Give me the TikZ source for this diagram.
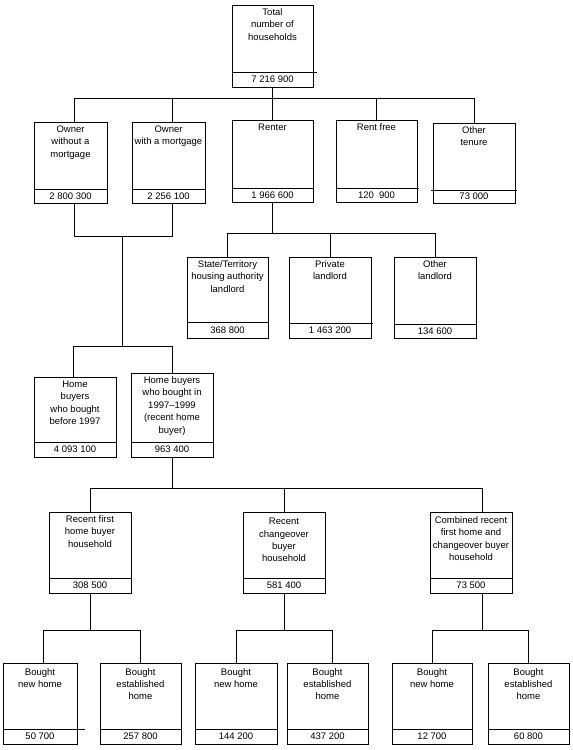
\documentclass[tikz,border=0pt]{standalone}
\usepackage{fontspec}
\setmainfont{Liberation Sans}
\usetikzlibrary{calc}
\tikzset{
  boxst/.style={draw, line width=1pt, inner sep=0pt, outer sep=0pt, anchor=north west},
  labst/.style={inner sep=0pt, align=center, font=\fontsize{9.5}{12.4}\selectfont, anchor=north},
  numst/.style={inner sep=0pt, font=\fontsize{9.5}{11}\selectfont},
  conn/.style={line width=1pt},
}
\newcommand\orgbox[9][3.5]{%
  \node[boxst, minimum width={#4pt-#3pt}, minimum height={#7pt-#5pt}] (#2) at (#3,#5) {};
  \draw[conn] (#3,#6) -- (#4,#6);
  \node[labst] (#2t) at ([yshift=-#1pt]#2.north) {#8};
  \node[numst] (#2n) at ($(#3,#6)!0.5!(#4,#7)$) {#9};
}
\begin{document}
\begin{tikzpicture}[x=1pt,y=-1pt]
\useasboundingbox (0,0) rectangle (573,750);
% row 1
\orgbox{total}{232}{313}{5}{72}{87}{Total\\number of\\households}{7 216 900}
% row 2
\orgbox{own1}{34}{107}{122}{189}{203}{Owner\\without a\\mortgage}{2 800 300}
\orgbox{own2}{132}{205}{122}{189}{203}{Owner\\with a mortgage}{2 256 100}
\orgbox{rent}{232}{313}{120}{188}{202}{Renter}{1 966 600}
\orgbox{rfree}{336}{417}{120}{188}{202}{Rent free}{120\ \ 900}
\orgbox{oth}{433}{515}{123}{190}{203}{Other\\tenure}{73 000}
% row 3
\orgbox{state}{187}{268}{257}{322}{338}{State/Territory\\housing authority\\landlord}{368 800}
\orgbox{priv}{289}{371}{257}{323}{338}{Private\\landlord}{1 463 200}
\orgbox{othl}{394}{476}{257}{324}{338}{Other\\landlord}{134 600}
% row 4
\orgbox{hb1}{34}{116}{377}{442}{457}{Home\\buyers\\who bought\\before 1997}{4 093 100}
\orgbox{hb2}{131}{213}{373}{442}{457}{Home buyers\\who bought in\\1997–1999\\(recent home\\buyer)}{963 400}
% row 5
\orgbox{rf}{49}{131}{512}{578}{593}{Recent first\\home buyer\\household}{308 500}
\orgbox[6]{rc}{243}{325}{512}{578}{593}{Recent\\changeover\\buyer\\household}{581 400}
\orgbox[4.5]{comb}{430}{512}{512}{578}{593}{Combined recent\\first home and\\changeover buyer\\household}{73 500}
% row 6
\orgbox[5]{n1}{3}{77}{663}{729}{744}{Bought\\new home}{50 700}
\orgbox[5]{e1}{100}{181}{663}{729}{744}{Bought\\established\\home}{257 800}
\orgbox[5]{n2}{195}{277}{663}{729}{744}{Bought\\new home}{144 200}
\orgbox[5]{e2}{287}{368}{663}{729}{744}{Bought\\established\\home}{437 200}
\orgbox[5]{n3}{392}{472}{663}{729}{744}{Bought\\new home}{12 700}
\orgbox[5]{e3}{488}{569}{663}{729}{744}{Bought\\established\\home}{60 800}
% divider overhangs
\draw[conn] (313,72) -- (317,72);
\draw[conn] (417,188) -- (419,188);
\draw[conn] (431,190) -- (517,190);
\draw[conn] (371,323) -- (373,323);
\draw[conn] (77,729) -- (85,729);
% bus levels
\coordinate (b1) at (0,98);
\coordinate (b2) at (0,236);
\coordinate (b3) at (0,233);
\coordinate (b4) at (0,346);
\coordinate (b5) at (0,488);
\coordinate (b6) at (0,630);
\coordinate (m2) at (122,236);
% connectors
\draw[conn] (total.south) -- (total.south |- b1);
\draw[conn] ([xshift=3.5pt]own1.north) |- (oth.north |- b1) -- (oth.north);
\draw[conn] ([xshift=3.5pt]own2.north) -- ([xshift=3.5pt]own2.north |- b1);
\draw[conn] (rent.north) -- (rent.north |- b1);
\draw[conn] (rfree.north) -- (rfree.north |- b1);
\draw[conn] ([xshift=3.5pt]own1.south) |- ([xshift=3.5pt]own2.south |- b2) -- ([xshift=3.5pt]own2.south);
\draw[conn] (m2) -- (m2 |- b4);
\draw[conn] ([xshift=-2pt]hb1.north) |- (hb2.north |- b4) -- (hb2.north);
\draw[conn] (rent.south) -- (rent.south |- b3);
\draw[conn] (state.north) |- (othl.north |- b3) -- (othl.north);
\draw[conn] (priv.north) -- (priv.north |- b3);
\draw[conn] (hb2.south) -- (hb2.south |- b5);
\draw[conn] (rf.north) |- ([xshift=11pt]comb.north |- b5) -- ([xshift=11pt]comb.north);
\draw[conn] (rc.north) -- (rc.north |- b5);
\draw[conn] (rf.south) -- (rf.south |- b6);
\draw[conn] ([xshift=3pt]n1.north) |- (e1.north |- b6) -- (e1.north);
\draw[conn] (rc.south) -- (rc.south |- b6);
\draw[conn] (n2.north) |- ([xshift=4.5pt]e2.north |- b6) -- ([xshift=4.5pt]e2.north);
\draw[conn] ([xshift=11pt]comb.south) -- ([xshift=11pt]comb.south |- b6);
\draw[conn] (n3.north) |- (e3.north |- b6) -- (e3.north);
\end{tikzpicture}
\end{document}
